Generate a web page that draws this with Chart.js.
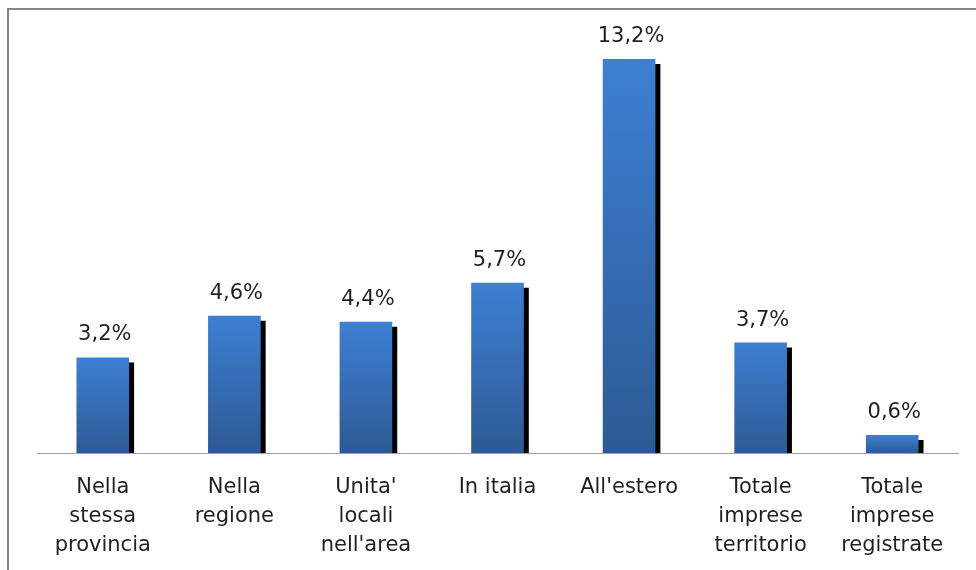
<!DOCTYPE html>
<html lang="it">
<head>
  <meta charset="UTF-8">
  <title>Imprese</title>
  <script src="https://cdn.jsdelivr.net/npm/chart.js"></script>
  <style>
    html, body {
      margin: 0;
      padding: 0;
      background: #fff;
      overflow: hidden;
    }

    #wrap {
      position: relative;
      width: 976px;
      height: 570px;
    }

    #frame {
      position: absolute;
      left: 7px;
      top: 8px;
      width: 1000px;
      height: 600px;
      border-left: 2px solid #858585;
      border-top: 2px solid #858585;
      pointer-events: none;
    }
  </style>
</head>
<body>
  <div id="wrap">
    <canvas id="barChart" width="976" height="570"></canvas>
    <div id="frame"></div>
  </div>

  <script>
    // categories (one line per entry) and percentages
    const categories = [
      ['Nella', 'stessa', 'provincia'],
      ['Nella', 'regione'],
      ["Unita'", 'locali', "nell'area"],
      ['In italia'],
      ["All'estero"],
      ['Totale', 'imprese', 'territorio'],
      ['Totale', 'imprese', 'registrate']
    ];
    const values = [3.2, 4.6, 4.4, 5.7, 13.2, 3.7, 0.6];

    const fmt = v => v.toFixed(1).replace('.', ',') + '%';

    // black drop shadow to the lower right of each bar
    const barShadow = {
      id: 'barShadow',
      beforeDatasetsDraw(chart) {
        const { ctx, chartArea } = chart;
        ctx.save();
        ctx.beginPath();
        ctx.rect(chartArea.left, chartArea.top - 10, chartArea.width, chartArea.height + 12);
        ctx.clip();
        ctx.shadowColor = '#000';
        ctx.shadowOffsetX = 5;
        ctx.shadowOffsetY = 5;
        ctx.shadowBlur = 0;
      },
      afterDatasetsDraw(chart) {
        chart.ctx.restore();
      }
    };

    // value printed above each bar
    const valueLabels = {
      id: 'valueLabels',
      afterDraw(chart) {
        const { ctx } = chart;
        const meta = chart.getDatasetMeta(0);
        ctx.save();
        ctx.font = '21px "DejaVu Sans"';
        ctx.fillStyle = '#1f1f1f';
        ctx.textAlign = 'center';
        ctx.textBaseline = 'alphabetic';
        meta.data.forEach((bar, i) => {
          ctx.fillText(fmt(values[i]), bar.x + 2, bar.y - 17);
        });
        ctx.restore();
      }
    };

    const ctxBar = document.getElementById('barChart').getContext('2d');

    const barChart = new Chart(ctxBar, {
      type: 'bar',
      data: {
        labels: categories,
        datasets: [{
          data: values,
          backgroundColor: (c) => {
            const chart = c.chart;
            if (!chart.chartArea || c.raw === undefined) return '#3a7bd0';
            const y = chart.scales.y;
            const top = y.getPixelForValue(c.raw);
            const base = y.getPixelForValue(0);
            const g = chart.ctx.createLinearGradient(0, top, 0, base);
            g.addColorStop(0, '#3d7fd3');
            g.addColorStop(1, '#2c5a94');
            return g;
          },
          borderWidth: 0,
          categoryPercentage: 1,
          barPercentage: 0.4
        }]
      },
      options: {
        responsive: false,
        animation: false,
        layout: {
          padding: { left: 37, right: 18, top: 35, bottom: 0 }
        },
        plugins: {
          legend: { display: false },
          tooltip: { enabled: false }
        },
        scales: {
          x: {
            grid: { display: false },
            border: { display: true, color: '#a0a0a0', width: 1 },
            ticks: {
              autoSkip: false,
              maxRotation: 0,
              padding: 12,
              color: '#1f1f1f',
              font: { family: '"DejaVu Sans"', size: 21, lineHeight: '29px' }
            },
            afterFit(scale) {
              scale.height = 117;
            }
          },
          y: {
            display: false,
            min: 0,
            max: 14
          }
        }
      },
      plugins: [barShadow, valueLabels]
    });
  </script>
</body>
</html>
